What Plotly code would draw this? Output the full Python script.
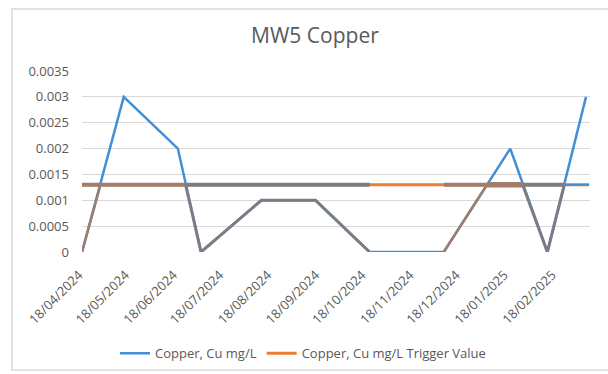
import plotly.graph_objects as go

# Copper results for monitoring well MW5 (mg/L)
sample_dates = ["2024-04-18", "2024-05-15", "2024-06-19", "2024-07-04", "2024-08-12",
                "2024-09-16", "2024-10-21", "2024-12-08", "2025-01-20", "2025-02-13",
                "2025-03-10"]
copper_mg_l = [0.0, 0.003, 0.002, 0.0, 0.001, 0.001, 0.0, 0.0, 0.002, 0.0, 0.003]

# Trigger value for copper (mg/L)
trigger_dates = ["2024-04-18", "2025-03-12"]
trigger_mg_l = [0.0013, 0.0013]

# Re-coloured stretches of the copper line (None breaks the line)
copper_grey_dates = ["2024-06-24", "2024-07-04", "2024-08-12", "2024-09-16", "2024-10-21", None,
                     "2025-01-28", "2025-02-13", "2025-02-24"]
copper_grey_vals = [0.0013, 0.0, 0.001, 0.001, 0.0, None, 0.0013, 0.0, 0.0013]
copper_brown_dates = ["2024-04-18", "2024-04-30", None, "2024-12-08", "2025-01-05"]
copper_brown_vals = [0.0, 0.0013, None, 0.0, 0.0013]

# Re-coloured stretches of the trigger line
trig_brown_dates = ["2024-04-18", "2024-06-24", None, "2024-12-08", "2025-01-05"]
trig_brown_vals = [0.0013, 0.0013, None, 0.0013, 0.0013]
trig_brown_thick_dates = ["2025-01-05", "2025-01-28"]
trig_brown_thick_vals = [0.0013, 0.0013]
trig_grey_dates = ["2024-06-24", "2024-10-21", None, "2025-01-28", "2025-02-24"]
trig_grey_vals = [0.0013, 0.0013, None, 0.0013, 0.0013]
trig_blue_dates = ["2025-02-24", "2025-03-12"]
trig_blue_vals = [0.0013, 0.0013]

tick_dates = ["2024-04-18", "2024-05-18", "2024-06-18", "2024-07-18", "2024-08-18",
              "2024-09-18", "2024-10-18", "2024-11-18", "2024-12-18", "2025-01-18",
              "2025-02-18"]
tick_text = ["18/04/2024", "18/05/2024", "18/06/2024", "18/07/2024", "18/08/2024",
             "18/09/2024", "18/10/2024", "18/11/2024", "18/12/2024", "18/01/2025",
             "18/02/2025"]
y_ticks = [0, 0.0005, 0.001, 0.0015, 0.002, 0.0025, 0.003, 0.0035]
y_text = ["0", "0.0005", "0.001", "0.0015", "0.002", "0.0025", "0.003", "0.0035"]

BLUE = "#438fd5"
ORANGE = "#ec7d31"
GREY = "#7b7d85"
BROWN = "#a07d6d"
TEXT = "#595959"
FONT = "Open Sans"

fig = go.Figure()

fig.add_trace(go.Scatter(x=sample_dates, y=copper_mg_l, mode="lines",
                         name="Copper, Cu mg/L",
                         line=dict(color=BLUE, width=2.5)))
fig.add_trace(go.Scatter(x=trigger_dates, y=trigger_mg_l, mode="lines",
                         name="Copper, Cu mg/L Trigger Value",
                         line=dict(color=ORANGE, width=3)))

def segment(xs, ys, color, width):
    fig.add_trace(go.Scatter(x=xs, y=ys, mode="lines", showlegend=False,
                             hoverinfo="skip", connectgaps=False,
                             line=dict(color=color, width=width)))

segment(trig_blue_dates, trig_blue_vals, BLUE, 2)
segment(trig_grey_dates, trig_grey_vals, GREY, 4)
segment(trig_brown_dates, trig_brown_vals, BROWN, 4)
segment(trig_brown_thick_dates, trig_brown_thick_vals, BROWN, 5.5)
segment(copper_grey_dates, copper_grey_vals, GREY, 3)
segment(copper_brown_dates, copper_brown_vals, BROWN, 2.5)

# chart border
fig.add_shape(type="rect", xref="paper", yref="paper",
              x0=-0.138, x1=1.06, y0=-0.652, y1=1.342,
              line=dict(color="#d9d9d9", width=1.5), fillcolor="rgba(0,0,0,0)")

fig.update_layout(
    width=608, height=374,
    margin=dict(l=82, r=18, t=71, b=122, autoexpand=False),
    paper_bgcolor="white", plot_bgcolor="white",
    font=dict(family=FONT, color=TEXT),
    title=dict(text="MW5 Copper", x=0.518, xref="container", xanchor="center",
               y=0.905, yref="container", yanchor="middle",
               font=dict(size=21, color=TEXT, family=FONT)),
    showlegend=True,
    legend=dict(orientation="h", x=(115 - 82) / 508, xanchor="left",
                y=-0.56, yanchor="middle",
                font=dict(size=13, color=TEXT, family=FONT),
                itemwidth=30, tracegroupgap=0, bgcolor="rgba(0,0,0,0)"),
    xaxis=dict(type="date", range=["2024-04-18", "2025-03-12 14:00"],
               tickmode="array", tickvals=tick_dates, ticktext=tick_text,
               tickangle=-45, tickfont=dict(size=13, color=TEXT),
               ticklabelshift=-3, ticklabelstandoff=12, automargin=False,
               showgrid=False, zeroline=False, showline=False, ticks=""),
    yaxis=dict(range=[0, 0.0035], tickmode="array", tickvals=y_ticks, ticktext=y_text,
               tickfont=dict(size=13, color=TEXT), automargin=False,
               showgrid=True, gridcolor="#d9d9d9", gridwidth=1,
               zeroline=False, showline=False, ticks="", ticklabelstandoff=12),
)

fig.write_html("out.html")
